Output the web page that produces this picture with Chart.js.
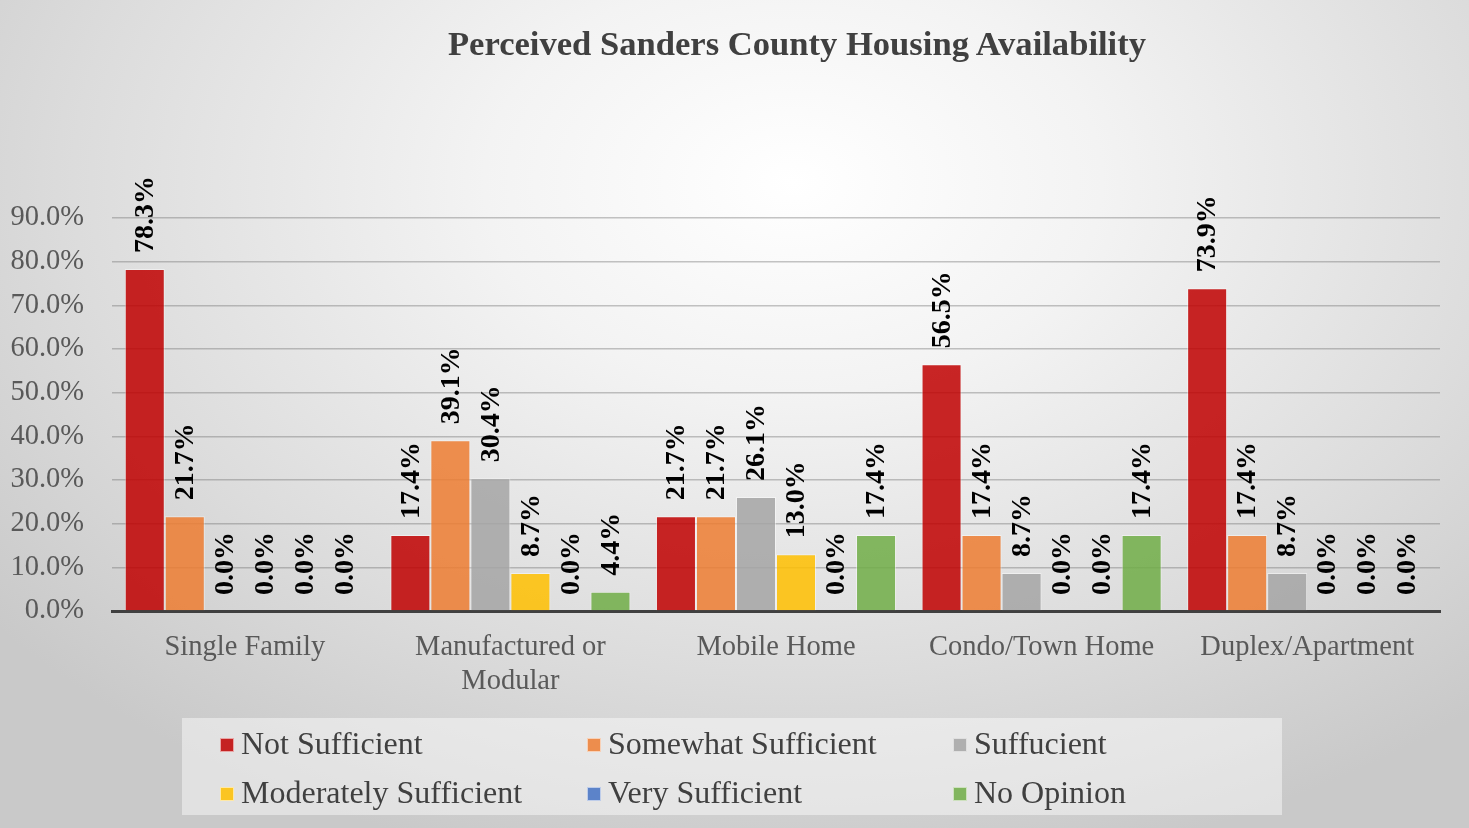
<!DOCTYPE html>
<html>
<head>
<meta charset="utf-8">
<script src="https://cdn.jsdelivr.net/npm/chart.js@4"></script>
<style>
  html, body { margin: 0; padding: 0; background: #fff; }
  .wrap {
    position: relative; width: 1469px; height: 828px; overflow: hidden;
    background: radial-gradient(ellipse 70% 85% at 54% 22%, #ffffff 0%, #f3f3f3 30%, #dcdcdc 70%, #c9c9c9 100%);
    font-family: "Liberation Serif", "Times New Roman", serif;
  }
  canvas { position: absolute; left: 0; top: 0; }
  .title {
    position: absolute; left: 0; width: 1594px; top: 24px; text-align: center;
    font-weight: bold; font-size: 34.6px; color: #404040;
  }
  .legendBox {
    position: absolute; left: 182px; top: 718px; width: 1100px; height: 97px;
    background: rgba(255,255,255,0.45);
  }
  .item { position: absolute; font-size: 32px; color: #404040; line-height: 36px; white-space: nowrap; }
  .item i { display: inline-block; width: 14px; height: 14px; margin-right: 7px; vertical-align: 2px; border: 1px solid rgba(255,255,255,0.6); box-sizing: border-box; }
</style>
</head>
<body>
<div class="wrap">
  <canvas id="chart" width="1469" height="828"></canvas>
  <div class="title">Perceived Sanders County Housing Availability</div>
  <div class="legendBox" id="legend"></div>
</div>
<script>
const categories = ['Single Family', ['Manufactured or', 'Modular'], 'Mobile Home', 'Condo/Town Home', 'Duplex/Apartment']
const seriesNames = ['Not Sufficient', 'Somewhat Sufficient', 'Suffucient', 'Moderately Sufficient', 'Very Sufficient', 'No Opinion']
const notSufficient = [78.3, 17.4, 21.7, 56.5, 73.9]
const somewhatSufficient = [21.7, 39.1, 21.7, 17.4, 17.4]
const suffucient = [0.0, 30.4, 26.1, 8.7, 8.7]
const moderatelySufficient = [0.0, 8.7, 13.0, 0.0, 0.0]
const verySufficient = [0.0, 0.0, 0.0, 0.0, 0.0]
const noOpinion = [0.0, 4.4, 17.4, 17.4, 0.0]
const yTicks = [0, 10, 20, 30, 40, 50, 60, 70, 80, 90]

const seriesValues = [notSufficient, somewhatSufficient, suffucient, moderatelySufficient, verySufficient, noOpinion]
const colors = ['rgba(192,0,0,0.85)', 'rgba(237,125,49,0.85)', 'rgba(165,165,165,0.85)', 'rgba(255,192,0,0.85)', 'rgba(68,114,196,0.85)', 'rgba(112,173,71,0.85)']
const serif = '"Liberation Serif", "Times New Roman", serif'

// Rotated value labels above each bar
const barLabels = {
    id: 'barLabels',
    afterDatasetsDraw(chart) {
        const ctx = chart.ctx
        ctx.save()
        ctx.font = 'bold 28px ' + serif
        ctx.fillStyle = '#000'
        ctx.textAlign = 'left'
        ctx.textBaseline = 'middle'
        chart.data.datasets.forEach((ds, i) => {
            chart.getDatasetMeta(i).data.forEach((bar, j) => {
                ctx.save()
                ctx.translate(bar.x + 1, bar.y - 16)
                ctx.rotate(-Math.PI / 2)
                ctx.fillText(ds.data[j].toFixed(1) + '%', 0, 0)
                ctx.restore()
            })
        })
        ctx.restore()
    }
}

new Chart(document.getElementById('chart'), {
    type: 'bar',
    data: {
        labels: categories,
        datasets: seriesNames.map((name, i) => ({
            label: name,
            data: seriesValues[i],
            backgroundColor: colors[i],
            borderColor: 'rgba(255,255,255,0.45)',
            borderWidth: 1,
            barPercentage: 1,
            categoryPercentage: 0.904
        }))
    },
    options: {
        responsive: false,
        animation: false,
        layout: { padding: { top: 218, right: 29, left: 0, bottom: 0 } },
        plugins: { legend: { display: false }, title: { display: false }, tooltip: { enabled: false } },
        scales: {
            x: {
                grid: { display: false },
                border: { display: true, color: '#404040', width: 3 },
                ticks: { color: '#595959', font: { family: serif, size: 28.5, lineHeight: 1.2 }, padding: 11, maxRotation: 0, autoSkip: false },
                afterFit(axis) { axis.height = 217 }
            },
            y: {
                min: 0,
                max: 90,
                afterBuildTicks(axis) { axis.ticks = yTicks.map(v => ({ value: v })) },
                grid: { color: 'rgba(110,110,110,0.4)', lineWidth: 1.5, drawTicks: false },
                border: { display: false },
                ticks: {
                    color: '#595959',
                    font: { family: serif, size: 28.5 },
                    padding: 28,
                    callback: v => v.toFixed(1) + '%'
                },
                afterFit(axis) { axis.width = 112 }
            }
        }
    },
    plugins: [barLabels]
})

// Legend laid out as a 3 x 2 grid
const legend = document.getElementById('legend')
const colX = [38, 405, 771]
const rowY = [7, 56]
seriesNames.forEach((name, i) => {
    const el = document.createElement('div')
    el.className = 'item'
    el.style.left = colX[i % 3] + 'px'
    el.style.top = rowY[Math.floor(i / 3)] + 'px'
    el.innerHTML = '<i style="background:' + colors[i] + '"></i>' + name
    legend.appendChild(el)
})
</script>
</body>
</html>
